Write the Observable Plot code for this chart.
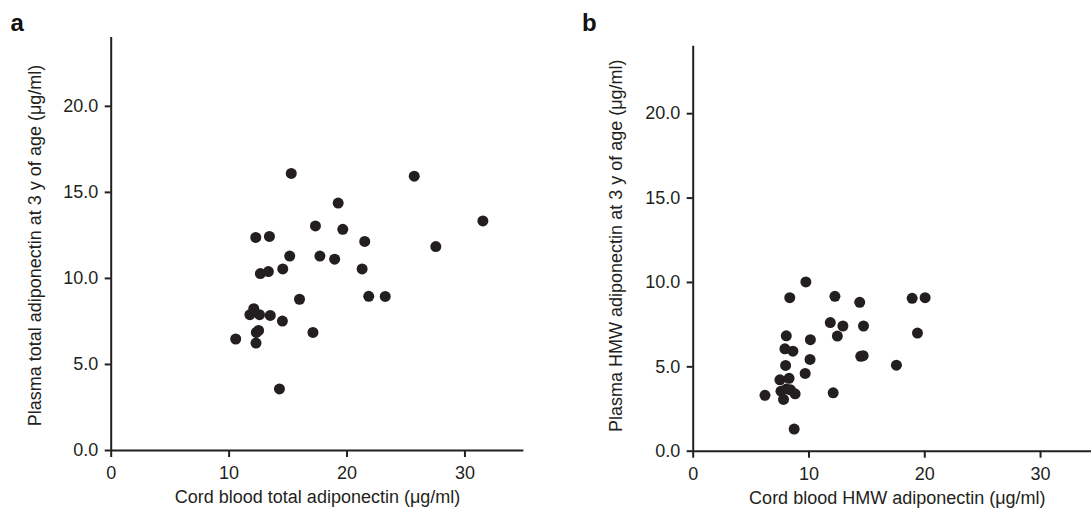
<!DOCTYPE html>
<html>
<head>
<meta charset="utf-8">
<script src="https://cdn.jsdelivr.net/npm/d3@7"></script>
<script src="https://cdn.jsdelivr.net/npm/@observablehq/plot@0.6"></script>
<style>
  html, body { margin: 0; padding: 0; background: #fff; }
  #wrap { position: relative; width: 1091px; height: 514px; overflow: hidden; }
  #wrap > svg { position: absolute; top: 0; }
</style>
</head>
<body>
<div id="wrap"></div>
<script>
// Panel a: cord blood total adiponectin vs plasma total adiponectin at 3 y
const aX = [15.27, 25.70, 19.25, 31.52, 17.32, 19.64, 12.26, 13.42, 21.50, 27.53, 15.14, 17.70, 18.95, 14.55, 21.28, 12.65, 13.33, 21.84, 23.24, 15.97, 12.09, 11.76, 12.58, 13.49, 14.52, 12.50, 12.31, 17.11, 10.56, 12.28, 14.27];
const aY = [16.10, 15.94, 14.38, 13.34, 13.05, 12.85, 12.38, 12.44, 12.15, 11.85, 11.30, 11.30, 11.12, 10.55, 10.55, 10.28, 10.40, 8.96, 8.95, 8.79, 8.24, 7.89, 7.89, 7.85, 7.52, 6.98, 6.86, 6.86, 6.48, 6.24, 3.58];

// Panel b: cord blood HMW adiponectin vs plasma HMW adiponectin at 3 y
const bX = [9.73, 8.34, 12.24, 14.38, 18.91, 20.03, 11.84, 12.93, 14.71, 12.45, 19.37, 8.04, 10.12, 7.92, 8.61, 10.09, 7.98, 14.47, 14.68, 17.55, 9.67, 7.49, 8.28, 7.58, 8.05, 8.40, 8.80, 6.20, 7.80, 12.09, 8.72];
const bY = [10.03, 9.10, 9.18, 8.82, 9.06, 9.10, 7.62, 7.42, 7.42, 6.82, 7.00, 6.84, 6.61, 6.07, 5.93, 5.44, 5.08, 5.62, 5.66, 5.10, 4.61, 4.23, 4.32, 3.56, 3.68, 3.64, 3.40, 3.31, 3.07, 3.46, 1.31];

const xTicks = [0, 10, 20, 30];
const yTicks = [0, 5, 10, 15, 20];

const aXLabel = "Cord blood total adiponectin (\u03bcg/ml)";
const aYLabel = "Plasma total adiponectin at 3 y of age (\u03bcg/ml)";
const bXLabel = "Cord blood HMW adiponectin (\u03bcg/ml)";
const bYLabel = "Plasma HMW adiponectin at 3 y of age (\u03bcg/ml)";

const INK = "#231f20";
const FONT = "'Liberation Sans', Arial, Helvetica, sans-serif";
const FS = 18;

function panel(opts) {
  const {xs, ys, xLabel, yLabel, letter, width, height, mL, mR, mT, mB, xMax,
         yLabelDx, yLabelDy, xLabelDx, xLabelDy, letterDx, letterDy} = opts;
  const idx = d3.range(xs.length);
  return Plot.plot({
    width, height,
    marginLeft: mL, marginRight: mR, marginTop: mT, marginBottom: mB,
    x: {domain: [0, xMax]},
    y: {domain: [0, 24]},
    style: {fontFamily: FONT, fontSize: FS + "px", color: INK, background: "transparent", overflow: "visible"},
    marks: [
      Plot.axisX({ticks: xTicks, tickSize: 7, tickPadding: 9, label: null, fontSize: FS, strokeWidth: 2, stroke: INK, fill: INK}),
      Plot.axisY({ticks: yTicks, tickFormat: d3.format(".1f"), tickSize: 6, tickPadding: 7, label: null, fontSize: FS, strokeWidth: 2, stroke: INK, fill: INK}),
      Plot.ruleY([0], {stroke: INK, strokeWidth: 2}),
      Plot.ruleX([0], {stroke: INK, strokeWidth: 2}),
      Plot.dot(idx, {x: i => xs[i], y: i => ys[i], r: 5.5, fill: INK, stroke: "none"}),
      Plot.text([xLabel], {frameAnchor: "bottom", textAnchor: "middle", dx: xLabelDx, dy: xLabelDy, fontSize: FS, fill: INK}),
      Plot.text([yLabel], {frameAnchor: "left", textAnchor: "middle", lineAnchor: "middle", dx: yLabelDx, dy: yLabelDy, rotate: -90, fontSize: FS, fill: INK}),
      Plot.text([letter], {frameAnchor: "top-left", dx: letterDx, dy: letterDy, textAnchor: "start", lineAnchor: "middle", fontWeight: "bold", fontSize: 24, fill: "#111"})
    ]
  });
}

const wrap = document.getElementById("wrap");

const pa = panel({
  xs: aX, ys: aY, xLabel: aXLabel, yLabel: aYLabel, letter: "a",
  width: 545, height: 514, mL: 110.7, mR: 21.6, mT: 37, mB: 64, xMax: 35,
  yLabelDx: -75.7, yLabelDy: 1.5, xLabelDx: 0, xLabelDy: 52.6, letterDx: -100.7, letterDy: -13.7
});
pa.style.left = "0px";
wrap.appendChild(pa);

const pb = panel({
  xs: bX, ys: bY, xLabel: bXLabel, yLabel: bYLabel, letter: "b",
  width: 546, height: 514, mL: 147.7, mR: 0, mT: 45.7, mB: 63.3, xMax: 34.4,
  yLabelDx: -76.7, yLabelDy: -3, xLabelDx: 5, xLabelDy: 52.3, letterDx: -111.2, letterDy: -22.4
});
pb.style.left = "545px";
wrap.appendChild(pb);
</script>
</body>
</html>
